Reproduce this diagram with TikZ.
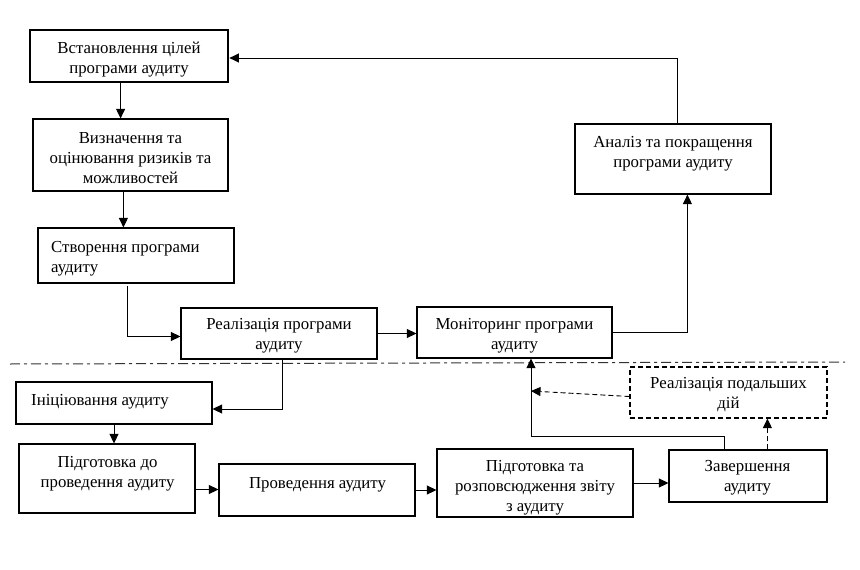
\documentclass[tikz,border=0pt]{standalone}
\usepackage{fontspec}
\setmainfont{Liberation Serif}
\usetikzlibrary{arrows.meta,calc}
\tikzset{
  box/.style={draw, line width=1.2pt, inner sep=0pt, anchor=center},
  thickbox/.style={box, line width=2.8pt},
  dbox/.style={box, dash pattern=on 5pt off 3pt},
  txt/.style={inner sep=0pt, align=center, yshift=-1.5pt, font=\fontsize{16.8}{20}\selectfont},
  ltxt/.style={txt, align=left, anchor=west},
  arr/.style={line width=0.9pt, -{Triangle[length=9.5pt,width=9pt]}},
  darr/.style={arr, dash pattern=on 5pt off 3pt},
  sep/.style={line width=1pt, black!80, dash pattern=on 10pt off 4pt on 3pt off 4pt}
}
\begin{document}
\begin{tikzpicture}[x=1pt,y=-1pt]
\path[fill=white,use as bounding box] (0,0) rectangle (860,570);
% boxes
\node[thickbox, minimum width=198pt, minimum height=52pt] (A) at (129,56) {};
\node[box, minimum width=195pt, minimum height=72pt] (B) at (130.5,155) {};
\node[box, minimum width=196pt, minimum height=55pt] (C) at (136,255.5) {};
\node[box, minimum width=196pt, minimum height=51pt] (D) at (279,333.5) {};
\node[box, minimum width=195pt, minimum height=51pt] (M) at (514.5,332.5) {};
\node[box, minimum width=196pt, minimum height=70pt] (N) at (673,159) {};
\node[box, minimum width=196pt, minimum height=42pt] (E) at (114,403) {};
\node[box, minimum width=176pt, minimum height=69pt] (F) at (107,478.5) {};
\node[box, minimum width=196pt, minimum height=52pt] (G) at (317,490) {};
\node[box, minimum width=196pt, minimum height=68pt] (H) at (535,483) {};
\node[box, minimum width=158pt, minimum height=52pt] (I) at (748,476) {};
\node[dbox, minimum width=197pt, minimum height=51pt] (J) at (728.5,392.5) {};
% texts
\node[txt] (At) at (129,58) {Встановлення цілей\\програми аудиту};
\node[txt] (Bt) at (130.5,157) {Визначення та\\оцінювання ризиків та\\можливостей};
\node[ltxt] (Ct) at (51,257) {Створення програми\\аудиту};
\node[txt] (Dt) at (279,334) {Реалізація програми\\аудиту};
\node[txt] (Mt) at (514.5,334) {Моніторинг програми\\аудиту};
\node[txt] (Nt) at (673,152) {Аналіз та покращення\\програми аудиту};
\node[ltxt] (Et) at (31,400) {Ініціювання аудиту};
\node[txt] (Ft) at (107.5,472) {Підготовка до\\проведення аудиту};
\node[txt] (Gt) at (317.5,483) {Проведення аудиту};
\node[txt] (Ht) at (535,486) {Підготовка та\\розповсюдження звіту\\з аудиту};
\node[txt] (It) at (747.5,476) {Завершення\\аудиту};
\node[txt] (Jt) at (728.5,393) {Реалізація подальших\\дій};
% separator
\coordinate (sepL) at (10,364);
\coordinate (sepR) at (845,362);
\draw[sep] (sepL) -- (sepR);
% connector anchor points
\coordinate (a1) at ($(A.south west)+(92,0)$);
\coordinate (b1) at ($(B.south west)+(91,0)$);
\coordinate (c1) at ($(C.south west)+(90,2)$);
\coordinate (d2) at ($(D.west)+(0,3)$);
\coordinate (n1) at ($(N.south west)+(113,0)$);
\coordinate (n2) at ($(N.north west)+(103,0)$);
\coordinate (a2) at ($(A.east)+(0,2)$);
\coordinate (d1) at ($(D.south west)+(102,0)$);
\coordinate (e1) at ($(E.east)+(0,6)$);
\coordinate (f1) at ($(F.east)+(0,11)$);
\coordinate (i1) at ($(I.north west)+(56,0)$);
\coordinate (i2) at ($(I.north west)+(99,0)$);
\coordinate (j1) at ($(J.west)+(0,4)$);
\coordinate (turn) at (531,436);
\coordinate (jt) at (531,391);
% connectors
\draw[arr] (a1) -- (a1 |- B.north);
\draw[arr] (b1) -- (b1 |- C.north);
\draw[arr] (c1) |- (d2);
\draw[arr] (D.east) -- (D.east -| M.west);
\draw[arr] (M.east) -| (n1);
\draw[arr] (n2) |- (a2);
\draw[arr] (d1) |- (e1);
\draw[arr] (E.south) -- (E.south |- F.north);
\draw[arr] (f1) -- (f1 -| G.west);
\draw[arr] (G.east) -- (G.east -| H.west);
\draw[arr] (H.east) -- (H.east -| I.west);
\draw[arr] (i1) |- (turn) -- (turn |- M.south);
\draw[darr] (i2) -- (i2 |- J.south);
\draw[darr] (j1) -- (jt);
\end{tikzpicture}
\end{document}
